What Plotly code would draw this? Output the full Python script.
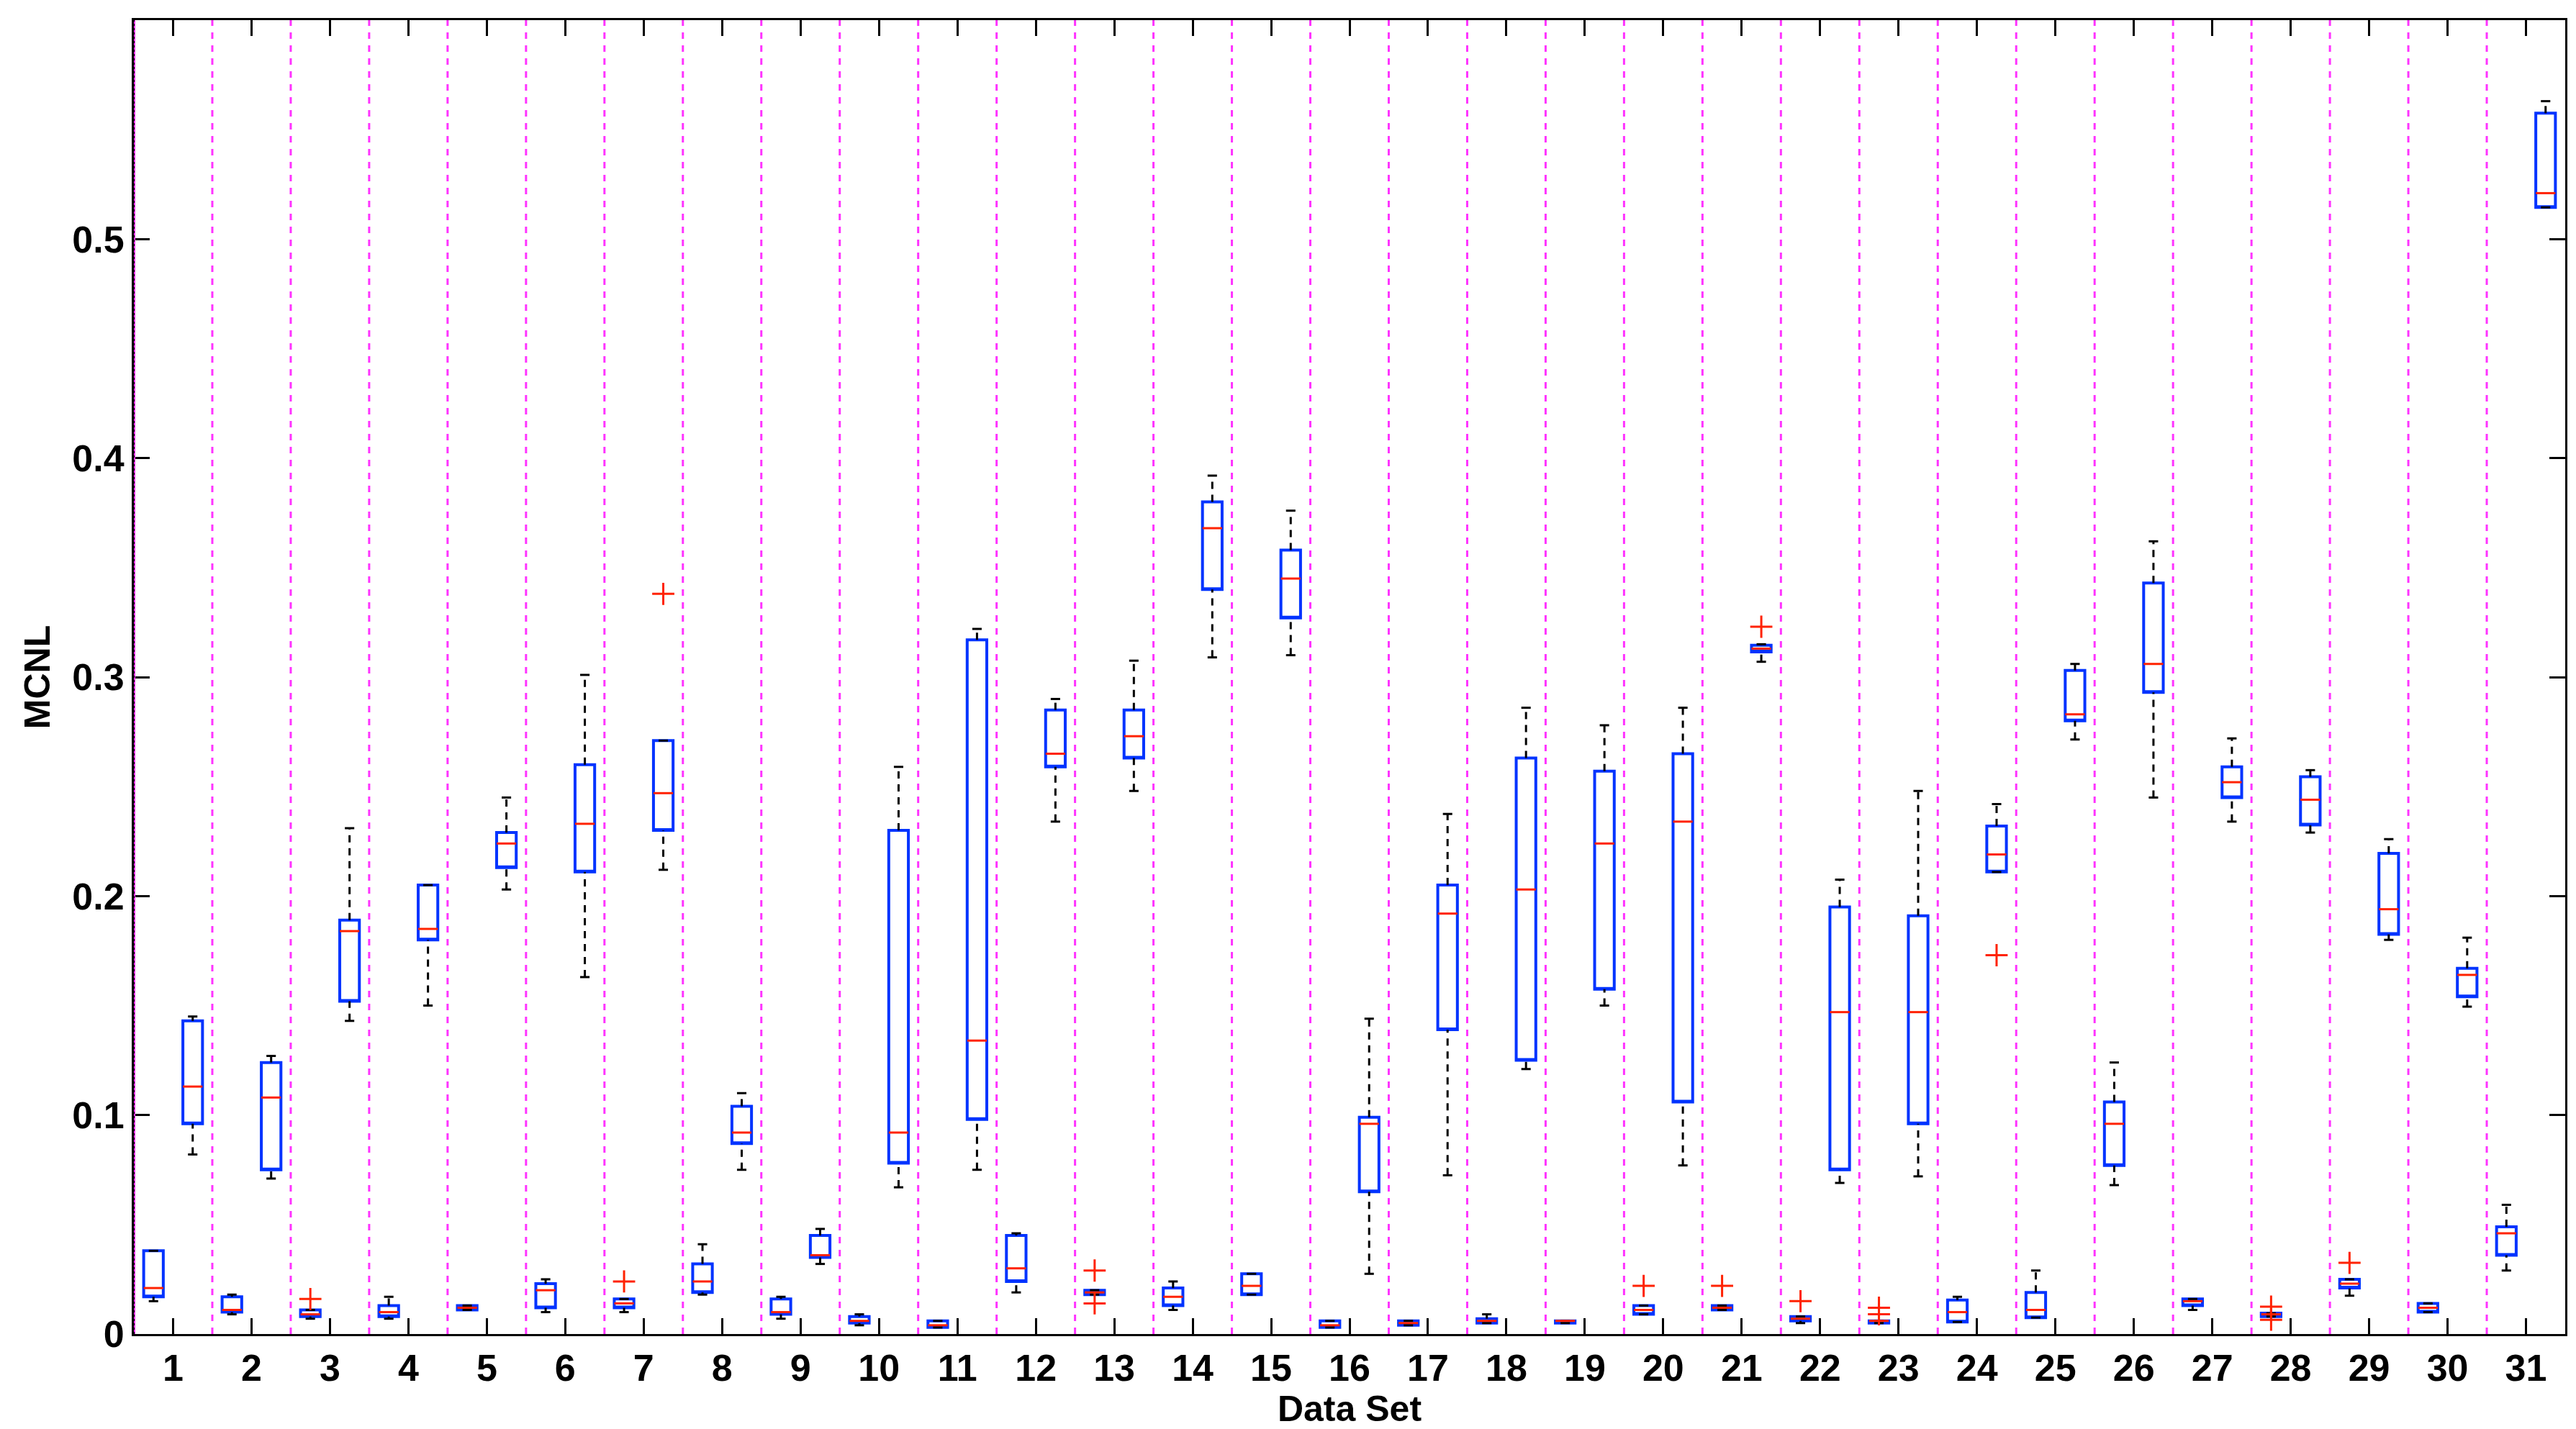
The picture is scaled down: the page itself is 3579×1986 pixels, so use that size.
import plotly.graph_objects as go

datasets = list(range(1, 32))

# first box of each data set (left)
a_q1  = [0.017,0.010,0.008,0.008,0.011,0.012,0.012,0.019,0.009,0.005,0.003,0.024,0.018,0.013,0.018,0.003,0.004,0.005,0.005,0.009,0.011,0.006,0.005,0.0055,0.0075,0.077,0.013,0.008,0.021,0.010,0.036]
a_med = [0.021,0.011,0.009,0.010,0.012,0.020,0.014,0.024,0.010,0.006,0.004,0.030,0.019,0.017,0.022,0.004,0.005,0.006,0.006,0.011,0.012,0.007,0.006,0.010,0.011,0.096,0.015,0.009,0.023,0.012,0.046]
a_q3  = [0.038,0.017,0.011,0.013,0.013,0.023,0.016,0.032,0.016,0.008,0.006,0.045,0.020,0.021,0.0275,0.006,0.006,0.007,0.006,0.013,0.013,0.008,0.006,0.0155,0.019,0.106,0.016,0.0095,0.025,0.014,0.049]
a_lo  = [0.015,0.009,0.007,0.007,0.011,0.010,0.010,0.018,0.007,0.004,0.003,0.019,0.018,0.011,0.018,0.003,0.004,0.005,0.005,0.009,0.011,0.005,0.005,0.0055,0.0075,0.068,0.011,0.008,0.0175,0.010,0.029]
a_hi  = [0.038,0.018,0.011,0.017,0.013,0.025,0.016,0.041,0.017,0.009,0.006,0.046,0.020,0.024,0.0275,0.006,0.006,0.009,0.006,0.013,0.013,0.008,0.006,0.017,0.029,0.124,0.016,0.0095,0.025,0.014,0.059]
a_out = [[],[],[0.016],[],[],[],[0.024],[],[],[],[],[],[0.029,0.014],[],[],[],[],[],[],[0.022],[0.022],[0.015],[0.012,0.009],[],[],[],[],[0.0125,0.0065],[0.0325],[],[]]

# second box of each data set (right)
b_q1  = [0.096,0.075,0.152,0.180,0.213,0.211,0.230,0.087,0.035,0.078,0.098,0.259,0.263,0.340,0.327,0.065,0.139,0.125,0.1575,0.106,0.3115,0.075,0.096,0.211,0.280,0.293,0.245,0.2325,0.1825,0.154,0.5145]
b_med = [0.113,0.108,0.184,0.185,0.224,0.233,0.247,0.092,0.036,0.092,0.134,0.265,0.273,0.368,0.345,0.096,0.192,0.203,0.224,0.234,0.313,0.147,0.147,0.219,0.283,0.306,0.252,0.244,0.194,0.164,0.521]
b_q3  = [0.143,0.124,0.189,0.205,0.229,0.260,0.271,0.104,0.045,0.230,0.317,0.285,0.285,0.380,0.358,0.099,0.205,0.263,0.257,0.265,0.3145,0.195,0.191,0.232,0.303,0.343,0.259,0.2545,0.2195,0.167,0.5575]
b_lo  = [0.082,0.071,0.143,0.150,0.203,0.163,0.212,0.075,0.032,0.067,0.075,0.234,0.248,0.309,0.310,0.0275,0.0725,0.121,0.150,0.077,0.307,0.069,0.072,0.211,0.2715,0.245,0.234,0.229,0.180,0.1495,0.5145]
b_hi  = [0.145,0.127,0.231,0.205,0.245,0.301,0.271,0.110,0.048,0.259,0.322,0.290,0.3075,0.392,0.376,0.144,0.2375,0.286,0.278,0.286,0.315,0.2075,0.248,0.242,0.306,0.362,0.272,0.2575,0.226,0.181,0.563]
b_out = [[],[],[],[],[],[],[0.338],[],[],[],[],[],[],[],[],[],[],[],[],[],[0.323],[],[],[0.173],[],[],[],[],[],[],[]]

ytick_vals = [0, 0.1, 0.2, 0.3, 0.4, 0.5]
ytick_text = ["0", "0.1", "0.2", "0.3", "0.4", "0.5"]

BW = 0.25
CAP = 0.06
fig = go.Figure()

def add_group(xs, q1, med, q3, lo, hi, outs):
    fig.add_trace(go.Box(x=xs, q1=q1, median=q1, q3=q3, lowerfence=q1, upperfence=q3,
                         width=BW, fillcolor="rgba(255,255,255,0)",
                         line=dict(color="#0033ff", width=4), boxpoints=False,
                         showlegend=False, hoverinfo="skip"))
    wx, wy, cx, cy, mx, my = [], [], [], [], [], []
    for x, a, m, b, l, h in zip(xs, q1, med, q3, lo, hi):
        if h > b:
            wx += [x, x, None]; wy += [b, h, None]
        if l < a:
            wx += [x, x, None]; wy += [l, a, None]
        cx += [x - CAP, x + CAP, None, x - CAP, x + CAP, None]
        cy += [h, h, None, l, l, None]
        mx += [x - BW / 2, x + BW / 2, None]; my += [m, m, None]
    fig.add_trace(go.Scatter(x=wx, y=wy, mode="lines", line=dict(color="black", width=3, dash="10px,8px"),
                             showlegend=False, hoverinfo="skip"))
    fig.add_trace(go.Scatter(x=cx, y=cy, mode="lines", line=dict(color="black", width=3),
                             showlegend=False, hoverinfo="skip"))
    fig.add_trace(go.Scatter(x=mx, y=my, mode="lines", line=dict(color="#ff2200", width=3),
                             showlegend=False, hoverinfo="skip"))
    ox, oy = [], []
    for x, o in zip(xs, outs):
        for v in o:
            ox.append(x); oy.append(v)
    fig.add_trace(go.Scatter(x=ox, y=oy, mode="markers",
                             marker=dict(symbol="cross-thin", size=22, line=dict(color="#ff2200", width=3)),
                             showlegend=False, hoverinfo="skip"))

add_group([d - 0.25 for d in datasets], a_q1, a_med, a_q3, a_lo, a_hi, a_out)
add_group([d + 0.25 for d in datasets], b_q1, b_med, b_q3, b_lo, b_hi, b_out)

shapes = []
for d in datasets[:-1]:
    shapes.append(dict(type="line", xref="x", yref="paper", x0=d + 0.5, x1=d + 0.5, y0=0, y1=1,
                       line=dict(color="#ff33ff", width=3, dash="dash"), layer="below"))
shapes.append(dict(type="line", xref="x", yref="paper", x0=0.5, x1=0.5, y0=0, y1=1,
                   line=dict(color="#ff33ff", width=4), layer="above"))
shapes.append(dict(type="line", xref="x", yref="paper", x0=0.5, x1=0.5, y0=0, y1=1,
                   line=dict(color="black", width=2, dash="dot"), layer="above"))
fig.update_layout(shapes=shapes)

tf = dict(family="Liberation Sans, Arial", size=52, color="black", weight="bold")
fig.update_layout(
    width=3579, height=1986, plot_bgcolor="white", paper_bgcolor="white",
    margin=dict(l=178, r=23, t=20, b=140),
    font=dict(family="Liberation Sans, Arial", size=50, color="black"),
    xaxis=dict(range=[0.5, 31.5], tickvals=datasets, ticktext=[str(d) for d in datasets],
               ticks="inside", ticklen=22, tickwidth=3, tickcolor="black", mirror="ticks",
               showline=True, linecolor="black", linewidth=3, showgrid=False, zeroline=False,
               tickfont=tf,
               title=dict(text="<b>Data Set</b>", standoff=0, font=dict(size=50))),
    yaxis=dict(range=[0, 0.6], tickvals=ytick_vals, ticktext=ytick_text,
               ticks="inside", ticklen=22, tickwidth=3, tickcolor="black", mirror="ticks",
               showline=True, linecolor="black", linewidth=3, showgrid=False, zeroline=False,
               tickfont=tf,
               title=dict(text="<b>MCNL</b>", standoff=15, font=dict(size=50))),
)
fig.write_html("out.html")
